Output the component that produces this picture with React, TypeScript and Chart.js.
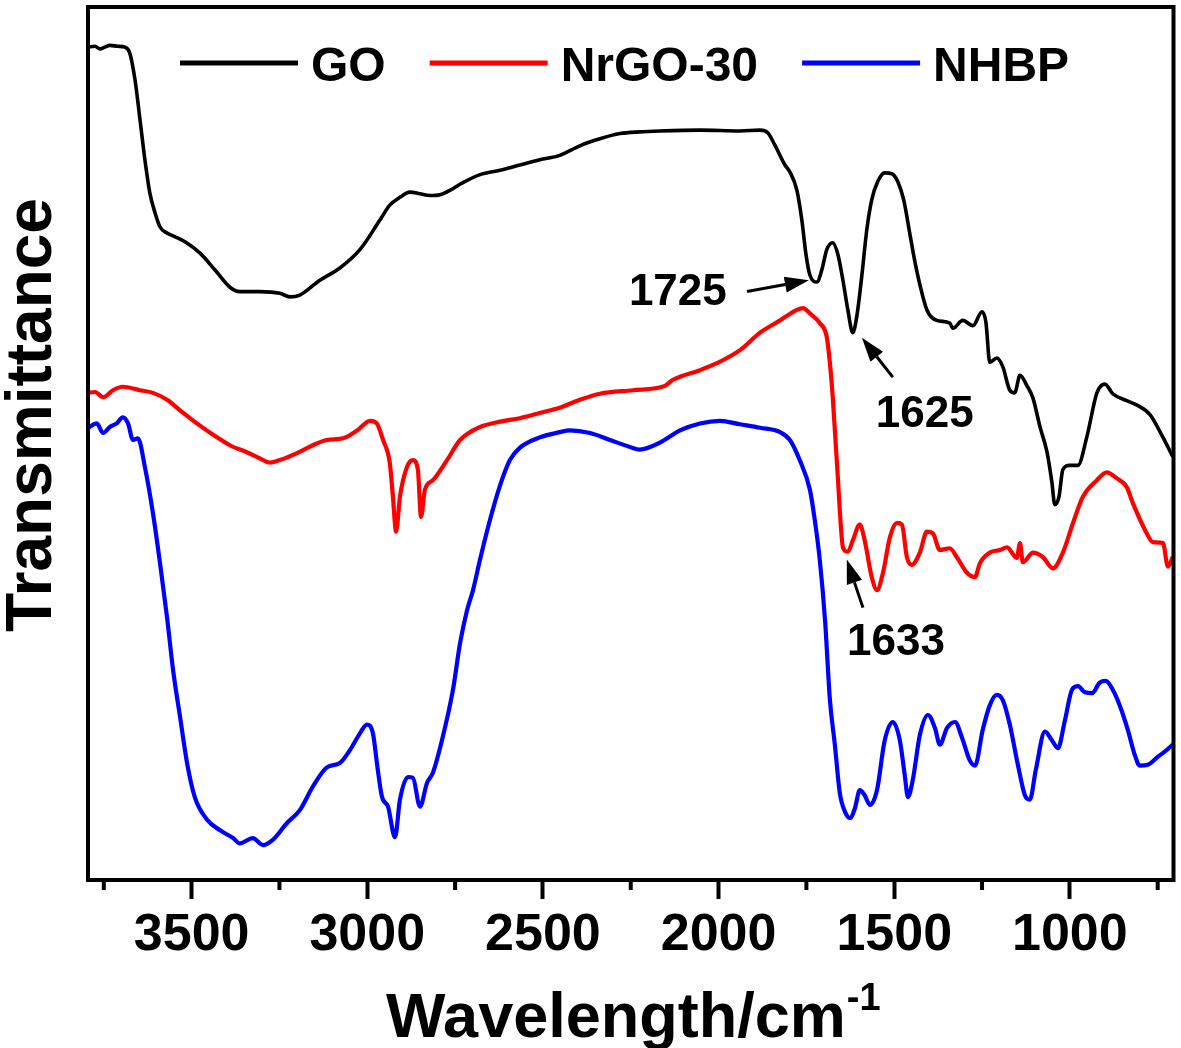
import React, { useEffect, useRef } from 'react';
import { Chart, registerables } from 'chart.js';

Chart.register(...registerables);

const FONT = "'Liberation Sans', Arial, Helvetica, sans-serif";

const SERIES_LABELS = ['GO', 'NrGO-30', 'NHBP'];
const SERIES_COLORS = ['#000000', '#ff0000', '#0000ff'];

const X_TICKS = [3500, 3000, 2500, 2000, 1500, 1000];
const X_MINOR_TICKS = [3750, 3250, 2750, 2250, 1750, 1250, 750];
const X_MIN = 705;
const X_MAX = 3795;

const GO_WN = [3795,3775,3761,3747,3733,3710,3690,3676,3661,3647,3633,3619,3604,3590,3570,3548,3519,3476,3434,3391,3363,3306,3249,3220,3192,3135,3078,3021,2964,2936,2907,2879,2850,2822,2793,2765,2736,2679,2622,2566,2509,2452,2395,2338,2281,2224,2167,2053,1939,1882,1860,1840,1811,1797,1777,1763,1751,1740,1720,1706,1692,1675,1660,1646,1632,1618,1606,1592,1578,1564,1547,1527,1507,1490,1473,1455,1441,1427,1407,1379,1342,1333,1305,1276,1250,1239,1228,1208,1191,1171,1157,1142,1122,1105,1085,1065,1051,1043,1031,1020,1000,977,952,923,900,878,838,809,772,735,707];
const GO_T = [95.4,95.5,95.2,95.4,95.6,95.5,95.4,94.7,91.6,87.1,82.5,78.7,76.4,74.8,74.1,73.7,73.1,71.8,69.9,67.9,67.4,67.4,67.2,66.8,67.0,68.7,70.1,72.2,75.6,77.3,78.2,78.8,78.6,78.4,78.5,79.0,79.7,80.8,81.3,81.9,82.5,83.0,84.1,84.9,85.5,85.7,85.8,85.9,85.8,85.9,85.6,84.2,81.9,81.1,79.0,75.6,71.6,69.3,68.5,69.9,72.2,73.0,71.6,68.7,65.3,62.7,64.7,69.3,74.5,77.9,80.0,81.0,80.9,80.0,77.9,73.9,70.8,68.2,65.3,64.1,63.8,63.2,64.1,63.5,65.1,63.9,59.3,59.8,58.8,56.1,55.8,57.8,56.6,55.2,51.9,49.0,45.5,43.0,43.9,47.0,47.5,47.5,50.7,55.8,56.8,55.7,54.9,54.4,53.3,50.7,48.5];

const NRGO_WN = [3795,3775,3752,3724,3696,3647,3610,3570,3533,3485,3439,3391,3343,3306,3277,3249,3200,3155,3115,3069,3029,2992,2973,2955,2936,2927,2918,2907,2887,2870,2856,2847,2836,2813,2773,2736,2699,2679,2622,2566,2509,2452,2395,2338,2244,2153,2130,2053,2005,1939,1882,1825,1777,1760,1740,1712,1692,1683,1675,1669,1660,1655,1646,1632,1618,1598,1584,1564,1549,1532,1512,1492,1478,1464,1450,1427,1407,1390,1370,1342,1322,1293,1270,1256,1228,1199,1179,1151,1142,1134,1105,1077,1048,1020,991,963,923,895,866,838,821,781,764,735,721,707];
const NRGO_T = [55.8,55.9,55.3,56.1,56.5,56.1,55.8,55.0,53.8,52.3,51.0,49.8,49.0,48.3,47.8,48.1,48.9,49.8,50.4,50.6,51.5,52.6,52.3,50.4,47.8,43.9,39.9,43.9,47.3,48.1,47.0,41.6,44.7,45.8,48.1,50.4,51.5,51.9,52.5,52.9,53.5,54.1,55.0,55.7,56.1,56.6,57.3,58.4,59.2,60.7,62.7,64.1,65.3,65.5,64.9,63.8,62.2,59.2,55.3,51.5,45.8,42.4,38.1,37.6,38.9,40.7,38.9,34.7,33.2,35.2,39.3,40.9,40.7,37.0,36.1,37.5,39.9,39.7,37.8,38.0,37.0,35.2,34.7,36.3,37.5,37.8,38.1,36.9,38.6,36.4,37.5,37.0,35.7,37.5,40.9,43.9,45.8,46.7,46.0,45.0,43.2,39.7,38.7,38.6,35.9,37.0];

const NHBP_WN = [3795,3770,3752,3733,3713,3696,3681,3667,3653,3633,3610,3590,3570,3553,3533,3513,3491,3456,3419,3382,3363,3326,3297,3269,3229,3192,3155,3115,3078,3049,3021,3001,2984,2970,2958,2941,2921,2907,2884,2870,2850,2830,2813,2785,2756,2736,2716,2699,2679,2651,2622,2594,2566,2509,2452,2423,2366,2309,2252,2224,2167,2110,2053,1996,1939,1882,1825,1797,1769,1740,1726,1712,1697,1683,1669,1655,1640,1626,1612,1598,1584,1569,1549,1527,1504,1484,1470,1461,1447,1427,1404,1384,1370,1350,1327,1307,1285,1270,1248,1228,1208,1191,1171,1148,1128,1114,1097,1071,1051,1034,1014,994,977,957,937,915,898,878,858,835,815,801,778,750,730,707];
const NHBP_T = [51.8,52.3,51.2,51.9,52.3,53.0,52.3,50.4,50.6,47.3,42.0,36.3,30.1,24.1,18.7,13.4,9.5,6.9,5.7,4.8,4.2,4.8,4.0,4.6,6.5,8.0,10.7,12.9,13.4,14.9,16.8,17.8,16.8,12.6,9.5,8.4,4.9,9.2,11.8,11.7,8.4,11.1,12.3,16.4,21.8,27.1,30.9,33.2,36.7,41.2,45.2,48.1,49.5,50.7,51.3,51.5,51.2,50.4,49.6,49.3,50.1,51.5,52.3,52.6,52.2,51.8,51.3,50.4,48.1,44.7,41.2,36.7,29.8,20.6,15.5,10.0,7.8,7.1,8.2,10.3,9.7,8.6,10.3,16.0,18.1,16.0,12.0,9.5,11.5,16.6,18.9,17.4,15.5,17.4,18.1,16.3,13.7,13.1,17.2,20.0,21.2,20.6,17.8,13.2,9.7,9.2,12.6,17.0,16.0,15.1,18.3,21.8,22.2,21.5,21.4,22.6,22.8,21.8,20.0,17.2,14.3,13.1,13.2,14.1,14.7,15.5];

const PEAK_LABELS = ['1725', '1625', '1633'];
const PEAK_TEXT_AT = [[2116, 67.5], [1413, 53.5], [1495, 27.4]];
const PEAK_ARROW_FROM = [[1919, 67.4], [1504, 57.6], [1589, 31.2]];
const PEAK_ARROW_TO = [[1743, 68.7], [1592, 62.1], [1635, 36.7]];

const X_TITLE = 'Wavelength/cm';
const X_TITLE_SUP = '-1';
const Y_TITLE = 'Transmittance';

const toPoints = (xs: number[], ys: number[]) => xs.map((x, i) => ({ x, y: ys[i] }));

const decorPlugin = {
  id: 'decor',
  afterDraw(chart: any) {
    const { ctx, chartArea: a, scales } = chart;
    const xs = scales.x;
    const ys = scales.y;
    ctx.save();
    // frame
    ctx.strokeStyle = '#000';
    ctx.lineWidth = 4;
    ctx.strokeRect(a.left, a.top, a.right - a.left, a.bottom - a.top);
    // minor ticks
    ctx.beginPath();
    for (const v of X_MINOR_TICKS) {
      const px = xs.getPixelForValue(v);
      ctx.moveTo(px, a.bottom);
      ctx.lineTo(px, a.bottom + 10);
    }
    ctx.stroke();

    // legend
    ctx.font = `bold 48px ${FONT}`;
    ctx.textBaseline = 'alphabetic';
    ctx.textAlign = 'left';
    let lx = a.left + 92;
    const yLine = a.top + 56;
    const yText = a.top + 74;
    const lineLen = 118;
    chart.data.datasets.forEach((ds: any) => {
      ctx.strokeStyle = ds.borderColor;
      ctx.lineWidth = 5;
      ctx.beginPath();
      ctx.moveTo(lx, yLine);
      ctx.lineTo(lx + lineLen, yLine);
      ctx.stroke();
      lx += lineLen + 13;
      ctx.fillStyle = '#000';
      ctx.fillText(ds.label, lx, yText);
      lx += ctx.measureText(ds.label).width + 44;
    });

    // peak annotations
    ctx.font = `bold 44px ${FONT}`;
    ctx.textAlign = 'center';
    ctx.textBaseline = 'middle';
    ctx.fillStyle = '#000';
    ctx.strokeStyle = '#000';
    PEAK_LABELS.forEach((lab, i) => {
      const tx = xs.getPixelForValue(PEAK_TEXT_AT[i][0]);
      const ty = ys.getPixelForValue(PEAK_TEXT_AT[i][1]);
      ctx.fillText(lab, tx, ty + 2);
      const x1 = xs.getPixelForValue(PEAK_ARROW_FROM[i][0]);
      const y1 = ys.getPixelForValue(PEAK_ARROW_FROM[i][1]);
      const x2 = xs.getPixelForValue(PEAK_ARROW_TO[i][0]);
      const y2 = ys.getPixelForValue(PEAK_ARROW_TO[i][1]);
      const ang = Math.atan2(y2 - y1, x2 - x1);
      const hl = 24, hw = 8;
      const bx = x2 - hl * Math.cos(ang);
      const by = y2 - hl * Math.sin(ang);
      ctx.lineWidth = 3;
      ctx.beginPath();
      ctx.moveTo(x1, y1);
      ctx.lineTo(bx, by);
      ctx.stroke();
      ctx.beginPath();
      ctx.moveTo(x2, y2);
      ctx.lineTo(bx + hw * Math.sin(ang), by - hw * Math.cos(ang));
      ctx.lineTo(bx - hw * Math.sin(ang), by + hw * Math.cos(ang));
      ctx.closePath();
      ctx.fill();
    });

    // x title with superscript
    const cx = (a.left + a.right) / 2 + 2;
    const base = a.bottom + 157;
    ctx.textAlign = 'left';
    ctx.textBaseline = 'alphabetic';
    ctx.font = `bold 63px ${FONT}`;
    const w1 = ctx.measureText(X_TITLE).width;
    ctx.font = `bold 38px ${FONT}`;
    const w2 = ctx.measureText(X_TITLE_SUP).width;
    const sx = cx - (w1 + w2) / 2;
    ctx.font = `bold 63px ${FONT}`;
    ctx.fillText(X_TITLE, sx, base);
    ctx.font = `bold 38px ${FONT}`;
    ctx.fillText(X_TITLE_SUP, sx + w1 + 1, base - 27);

    // y title
    ctx.translate(a.left - 37, a.top + 408);
    ctx.rotate(-Math.PI / 2);
    ctx.font = `bold 64px ${FONT}`;
    ctx.textAlign = 'center';
    ctx.fillText(Y_TITLE, 0, 0);
    ctx.restore();
  },
};

export default function App() {
  const ref = useRef<HTMLCanvasElement | null>(null);
  useEffect(() => {
    if (!ref.current) return;
    const seriesX = [GO_WN, NRGO_WN, NHBP_WN];
    const seriesY = [GO_T, NRGO_T, NHBP_T];
    const chart = new Chart(ref.current, {
      type: 'scatter',
      data: {
        datasets: SERIES_LABELS.map((label, i) => ({
          label,
          data: toPoints(seriesX[i], seriesY[i]),
          showLine: true,
          borderColor: SERIES_COLORS[i],
          backgroundColor: SERIES_COLORS[i],
          borderWidth: i === 0 ? 3.6 : 4.2,
          pointRadius: 0,
          pointHoverRadius: 0,
          cubicInterpolationMode: 'monotone',
          fill: false,
        })),
      },
      options: {
        animation: false,
        responsive: false,
        maintainAspectRatio: false,
        devicePixelRatio: 1,
        layout: { padding: { left: 88, right: 7.5, top: 7, bottom: 0 } },
        plugins: {
          legend: { display: false },
          tooltip: { enabled: false },
        },
        scales: {
          x: {
            type: 'linear',
            reverse: true,
            min: X_MIN,
            max: X_MAX,
            afterBuildTicks: (s: any) => {
              s.ticks = X_TICKS.map((v) => ({ value: v }));
            },
            afterFit: (s: any) => {
              s.height = 168;
            },
            border: { display: false },
            grid: {
              display: true,
              drawOnChartArea: false,
              drawTicks: true,
              tickLength: 19,
              tickWidth: 4,
              tickColor: '#000',
            },
            ticks: {
              color: '#000',
              padding: 5,
              maxRotation: 0,
              autoSkip: false,
              font: { family: FONT, size: 52, weight: 'bold' },
              callback: (v: any) => String(v),
            },
          },
          y: {
            display: false,
            min: 0,
            max: 100,
          },
        },
      },
      plugins: [decorPlugin],
    } as any);
    return () => chart.destroy();
  }, []);
  return (
    <div style={{ position: 'fixed', left: 0, top: 0, width: 1181, height: 1048, background: '#fff' }}>
      <canvas ref={ref} width={1181} height={1048} style={{ display: 'block', width: 1181, height: 1048 }} />
    </div>
  );
}
